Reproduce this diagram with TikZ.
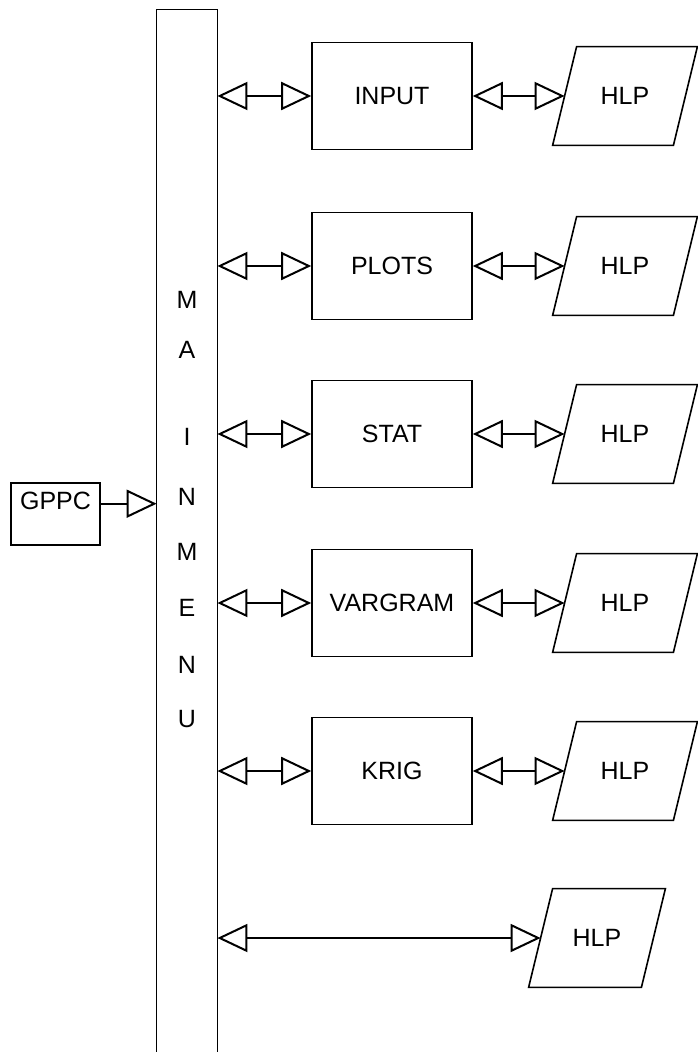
\documentclass[tikz,border=0pt]{standalone}
\usepackage{fontspec}
\setmainfont{Liberation Sans}
\usetikzlibrary{arrows.meta, positioning, calc}

\tikzset{
  modbox/.style={draw, line width=0.8pt, inner sep=0pt, minimum width=80pt, minimum height=53.5pt},
  hlpbox/.style={inner sep=0pt, minimum width=60pt, minimum height=49pt},
  slanted/.style={line width=0.8pt},
  opentip/.tip={Triangle[open, length=15pt, width=14pt]},
  dbl/.style={opentip-opentip, line width=1pt},
}

\begin{document}
\begin{tikzpicture}[x=0.5pt, y=-0.5pt, font=\fontsize{12.5}{15}\selectfont]
  \useasboundingbox (0,0) rectangle (697,1052);
  % main menu column, open at the bottom
  \node[minimum width=30pt, minimum height=521pt, inner sep=0pt] (bar) at (187,531) {};
  \draw[line width=0.8pt] (bar.south west) |- (bar.north east) -- (bar.south east);
  \foreach \ch/\y [count=\i] in {M/300, A/350, I/437, N/497, M/552, E/608, N/665, U/719}
    \node (menu\i) at (187,\y) {\ch};
  % entry
  \node[draw, line width=0.8pt, inner sep=0pt, minimum width=44.5pt,
        text height=13pt, text depth=18pt] (gppc) at (55.5,514) {GPPC};
  \draw[line width=1pt, -opentip] (gppc.mid east) -- (gppc.mid east -| bar.west);
  % modules and their help screens
  \foreach \name/\txt/\y in {inp/INPUT/96, plt/PLOTS/266, sta/STAT/434, vgm/VARGRAM/603, krg/KRIG/771}{
    \node[modbox] (\name) at (392,\y) {\txt};
    \node[hlpbox] (h\name) at (625,\y) {HLP};
    \draw[slanted] ([xshift=-6pt]h\name.south west) -- ([xshift=6pt]h\name.north west)
      -- ([xshift=6pt]h\name.north east) -- ([xshift=-6pt]h\name.south east) -- cycle;
    \draw[dbl] (\name.west -| bar.east) -- (\name.west);
    \draw[dbl] (\name.east) -- (h\name.west);
  }
  % help from the menu itself
  \node[hlpbox, minimum width=56pt] (hmenu) at (597,938) {HLP};
  \draw[slanted] ([xshift=-6pt]hmenu.south west) -- ([xshift=6pt]hmenu.north west)
    -- ([xshift=6pt]hmenu.north east) -- ([xshift=-6pt]hmenu.south east) -- cycle;
  \draw[dbl] (hmenu.west -| bar.east) -- (hmenu.west);
\end{tikzpicture}
\end{document}
